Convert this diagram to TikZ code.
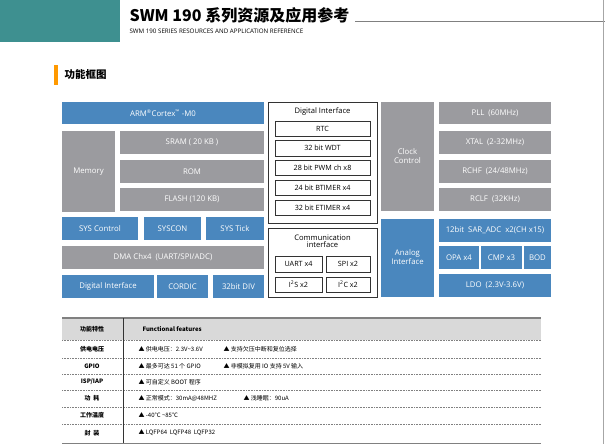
\documentclass[tikz,border=0pt]{standalone}
\usepackage{fontspec}
\setmainfont{Open Sans}
\newfontfamily\cjk{Noto Sans CJK SC}
\begin{document}
\begin{tikzpicture}[x=1pt,y=-1pt,
  blu/.style={fill=bl,text=white,font=\fontsize{7.8}{8}\selectfont},
  gry/.style={fill=gr,text=white,font=\fontsize{7.8}{8}\selectfont},
  wb/.style={fill=white,text=black,font=\fontsize{7.2}{7.5}\selectfont},
  cell/.style={font=\cjk\fontsize{6}{6}\selectfont,text=black},
  hcell/.style={font=\cjk\bfseries\fontsize{6}{6}\selectfont,text=black},
  dot/.style={densely dotted,gray,line width=0.6pt}]
\definecolor{bl}{HTML}{4A87BE}
\definecolor{gr}{HTML}{9B9B9F}
\definecolor{teal}{HTML}{3E9090}
\useasboundingbox (0,0) rectangle (605,444);
\newcommand{\bx}[4]{\fill[#1] #2 rectangle #3; \path #2 -- #3 node[midway,#1,fill=none] {#4};}
\newcommand{\wbx}[3]{\draw[black!80,line width=0.6pt,fill=white] #1 rectangle #2; \path #1 -- #2 node[midway,wb,fill=none] {#3};}
% header
\fill[teal] (0,0) rectangle (120,42);
\node[anchor=west,font=\cjk\bfseries\fontsize{16}{17}\selectfont] (title) at (126,15) {SWM 190 系列资源及应用参考};
\node[anchor=west,font=\fontsize{6.2}{6}\selectfont] (sub) at (126,31) {SWM 190 SERIES RESOURCES AND APPLICATION REFERENCE};
\draw[gray,line width=0.8pt] (355,21) -- (605,21);
\draw[gray!70,line width=0.8pt] (603.5,0) -- (603.5,444);
\fill[orange!80!yellow] (54,65) rectangle (58,85);
\node[anchor=west,font=\cjk\bfseries\fontsize{10.5}{11}\selectfont] (sec) at (61,75) {功能框图};
% left
\bx{blu}{(62,102)}{(264,124)}{ARM\textsuperscript{\tiny ®}Cortex\textsuperscript{\tiny ™} -M0}
\bx{gry}{(62,131)}{(115,212)}{Memory}
\bx{gry}{(120,131)}{(264,154)}{SRAM ( 20 KB )}
\bx{gry}{(120,160)}{(264,183)}{ROM}
\bx{gry}{(120,188)}{(264,211)}{FLASH  (120 KB)}
\bx{blu}{(62,217)}{(138,240)}{SYS Control}
\bx{blu}{(144,217)}{(201,240)}{SYSCON}
\bx{blu}{(206,217)}{(264,240)}{SYS Tick}
\bx{gry}{(62,246)}{(264,269)}{DMA Chx4 \ (UART/SPI/ADC)}
\bx{blu}{(62,275)}{(154,298)}{Digital Interface}
\bx{blu}{(157,275)}{(208,298)}{CORDIC}
\bx{blu}{(213,275)}{(264,298)}{32bit DIV}
% middle
\draw[black!80,line width=0.7pt] (268,102) rectangle (377,223);
\node[font=\fontsize{7.6}{8}\selectfont] (di) at (322.5,112) {Digital Interface};
\wbx{(275,121)}{(370,136)}{RTC}
\wbx{(275,140)}{(370,156)}{32 bit WDT}
\wbx{(275,160)}{(370,175)}{28 bit PWM ch x8}
\wbx{(275,180)}{(370,195)}{24 bit BTIMER x4}
\wbx{(275,200)}{(370,215)}{32 bit ETIMER x4}
\draw[black!80,line width=0.7pt] (268,228) rectangle (377,297);
\node[font=\fontsize{7.6}{8}\selectfont,align=center] (ci) at (322.5,241.5) {Communication\\[-1pt]interface};
\wbx{(275,256)}{(322,272)}{UART x4}
\wbx{(326,256)}{(370,272)}{SPI x2}
\wbx{(275,277)}{(322,292)}{I\textsuperscript{2}S x2}
\wbx{(326,277)}{(370,292)}{I\textsuperscript{2}C x2}
% right
\fill[gr] (381,102) rectangle (434,211);
\node[text=white,align=center,font=\fontsize{7.8}{9}\selectfont] (cc) at (407.5,156) {Clock\\Control};
\fill[bl] (381,219) rectangle (434,297);
\node[text=white,align=center,font=\fontsize{7.8}{9}\selectfont] (ai) at (407.5,257) {Analog\\Interface};
\bx{gry}{(439,102)}{(551,124)}{PLL \ (60MHz)}
\bx{gry}{(439,131)}{(551,154)}{XTAL \ (2-32MHz)}
\bx{gry}{(439,160)}{(551,183)}{RCHF \ (24/48MHz)}
\bx{gry}{(439,188)}{(551,211)}{RCLF \ (32KHz)}
\bx{blu}{(439,219)}{(551,242)}{12bit \ SAR\_ADC \ x2(CH x15)}
\bx{blu}{(439,246)}{(479,269)}{OPA x4}
\bx{blu}{(481,246)}{(522,269)}{CMP x3}
\bx{blu}{(524,246)}{(551,269)}{BOD}
\bx{blu}{(439,274)}{(551,297)}{LDO \ (2.3V-3.6V)}
% table
\fill[gray!30] (62,318) rectangle (541,340);
\draw[gray,line width=1.2pt] (62,318) -- (541,318);
\draw[gray,line width=1pt] (62,443) -- (541,443);
\foreach \y in {340,358,374,390,407,424} \draw[dot] (62,\y) -- (541,\y);
\draw[black!80,line width=0.7pt] (123,318) -- (123,443);
\node[hcell] (h1) at (92,329) {功能特性};
\node[hcell,anchor=west] (h2) at (139,329) {Functional features};
\node[hcell] (r1) at (92,349) {供电电压};
\node[hcell] (r2) at (92,366) {GPIO};
\node[hcell] (r3) at (92,382) {ISP/IAP};
\node[hcell] (r4) at (92,398) {功\ \ 耗};
\node[hcell] (r5) at (92,415) {工作温度};
\node[hcell] (r6) at (92,433) {封\ \ 装};
\node[cell,anchor=west] (a1) at (135,349) {▲ 供电电压：2.3V\textasciitilde 3.6V};
\node[cell,anchor=west] (b1) at (220,349) {▲ 支持欠压中断和复位选择};
\node[cell,anchor=west] (a2) at (135,366) {▲ 最多可达 51 个 GPIO};
\node[cell,anchor=west] (b2) at (220,366) {▲ 非模拟复用 IO 支持 5V 输入};
\node[cell,anchor=west] (a3) at (135,382) {▲ 可自定义 BOOT 程序};
\node[cell,anchor=west] (a4) at (135,398) {▲ 正常模式：30mA@48MHZ};
\node[cell,anchor=west] (b4) at (240,398) {▲ 浅睡眠：90uA};
\node[cell,anchor=west] (a5) at (135,415) {▲ -40°C \textasciitilde 85°C};
\node[cell,anchor=west] (a6) at (135,433) {▲ LQFP64 \ LQFP48 \ LQFP32};
\end{tikzpicture}
\end{document}
